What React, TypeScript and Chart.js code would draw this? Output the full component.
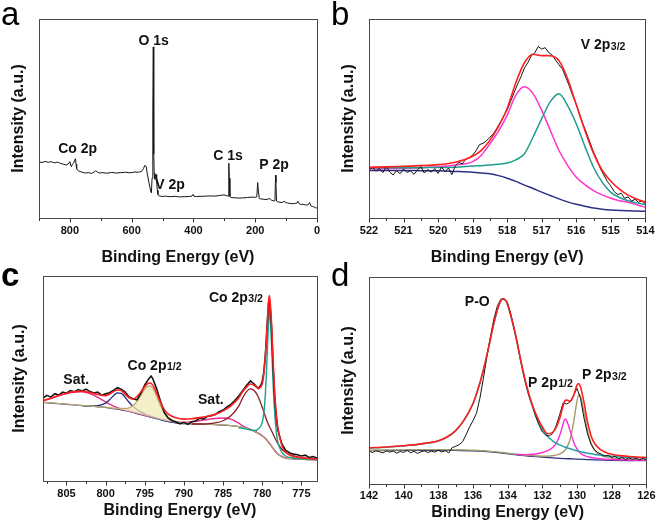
import React, { useEffect, useRef } from 'react';
import { Chart, registerables } from 'chart.js';

Chart.register(...registerables);

type P = [number, number];
const FONT = "'Liberation Sans', Arial, Helvetica, sans-serif";

// ---------------- Panel a : survey ----------------
const A_SURVEY: P[] = [
  [900, 28.2], [890, 27.9], [880, 28.4], [870, 28.0], [860, 28.3], [850, 27.7], [840, 28.1], [830, 27.4],
  [820, 27.0], [812, 26.6], [805, 27.2], [800, 28.3], [797, 26.2], [795, 25.8], [792, 27.0], [788, 27.5],
  [785, 29.0], [782, 29.8], [780, 27.0], [778, 24.8], [775, 24.0], [770, 23.5], [760, 23.0], [750, 22.6],
  [740, 22.8], [730, 22.4], [722, 23.0], [716, 23.8], [712, 23.2], [705, 22.6], [695, 22.8], [680, 22.5],
  [665, 22.9], [650, 22.6], [635, 22.8], [620, 23.0], [605, 22.7], [590, 23.1], [578, 23.0], [568, 23.4],
  [562, 24.8], [557, 26.5], [553, 25.8], [549, 22.0], [545, 18.5], [541, 15.5], [538, 13.2], [536, 12.6],
  [534, 20.0], [532, 42.0], [531, 55.0], [530, 86.0], [529, 58.0], [528, 32.0], [527, 22.5], [525, 19.5],
  [523, 21.0], [521, 21.8], [519, 18.0], [517, 14.0], [515, 11.8], [512, 11.2], [508, 11.0], [500, 10.8],
  [490, 11.0], [475, 10.7], [460, 10.9], [445, 10.6], [430, 10.7], [415, 10.8], [405, 11.0], [401, 11.9],
  [398, 10.9], [390, 10.8], [375, 10.9], [360, 11.0], [345, 11.1], [330, 11.0], [315, 11.3], [305, 11.6],
  [298, 11.5], [292, 11.2], [288, 11.0], [286, 13.0], [285, 27.5], [284, 20.0], [282, 10.8], [278, 10.3],
  [270, 10.2], [255, 10.0], [240, 10.1], [225, 10.3], [210, 10.5], [200, 10.4], [195, 10.6], [192, 17.8],
  [190, 14.0], [187, 9.8], [182, 9.6], [172, 9.4], [162, 9.3], [155, 9.8], [152, 9.6], [148, 9.0],
  [142, 8.6], [138, 8.7], [136, 10.0], [134, 21.5], [133, 18.0], [131, 8.5], [128, 8.2], [120, 7.9],
  [112, 7.8], [106, 8.5], [102, 7.7], [96, 7.6], [88, 7.3], [80, 7.2], [72, 7.3], [65, 7.5],
  [62, 8.4], [58, 7.2], [52, 6.8], [45, 6.9], [38, 6.6], [32, 6.5], [27, 6.9], [24, 7.8],
  [20, 6.2], [15, 5.8], [10, 5.6], [5, 5.2], [0, 5.0],
];
const A_TICKS = [900, 800, 700, 600, 500, 400, 300, 200, 100, 0];
const A_LABELED = [800, 600, 400, 200, 0];

// ---------------- Panel b : V 2p3/2 ----------------
const B_RAW: P[] = [
  [522.0, 24.2], [521.9, 25.4], [521.8, 23.6], [521.7, 24.9], [521.6, 22.8], [521.5, 25.8], [521.4, 23.1],
  [521.3, 21.6], [521.2, 23.9], [521.1, 22.2], [521.0, 24.6], [520.9, 22.9], [520.8, 23.8], [520.7, 21.9],
  [520.6, 24.1], [520.5, 25.9], [520.4, 22.6], [520.3, 24.4], [520.2, 23.0], [520.1, 24.8], [520.0, 22.4],
  [519.9, 25.6], [519.8, 23.3], [519.7, 25.1], [519.6, 21.8], [519.5, 26.2], [519.4, 27.9], [519.3, 27.2],
  [519.2, 29.5], [519.1, 30.2], [519.0, 31.6], [518.9, 33.8], [518.8, 36.9], [518.7, 37.5], [518.6, 38.8],
  [518.5, 40.6], [518.4, 42.3], [518.3, 45.1], [518.2, 48.0], [518.1, 51.2], [518.0, 54.3], [517.9, 58.6],
  [517.8, 62.9], [517.7, 67.2], [517.6, 71.0], [517.5, 75.4], [517.4, 78.1], [517.3, 81.6], [517.2, 83.0],
  [517.1, 86.2], [517.0, 84.9], [516.9, 85.6], [516.8, 83.2], [516.7, 81.9], [516.6, 79.4], [516.5, 77.0],
  [516.4, 74.8], [516.3, 70.6], [516.2, 66.3], [516.1, 61.4], [516.0, 57.2], [515.9, 52.0], [515.8, 47.1],
  [515.7, 42.6], [515.6, 37.9], [515.5, 33.2], [515.4, 29.4], [515.3, 24.8], [515.2, 21.6], [515.1, 18.4],
  [515.0, 16.1], [514.9, 13.2], [514.8, 11.8], [514.7, 12.4], [514.6, 9.9], [514.5, 10.6], [514.4, 8.5],
  [514.3, 9.4], [514.2, 7.9], [514.1, 8.6], [514.0, 7.2],
];
const B_FIT: P[] = [
  [522, 25.5], [521.5, 25.7], [521, 26.0], [520.5, 26.3], [520, 26.8], [519.5, 28.0], [519, 31.0],
  [518.75, 34.0], [518.5, 39.0], [518.25, 46.0], [518, 55.0], [517.75, 68.0], [517.5, 78.0], [517.25, 82.3],
  [517, 81.6], [516.75, 81.5], [516.5, 79.0], [516.25, 70.0], [516, 57.0], [515.75, 44.0], [515.5, 32.5],
  [515.25, 24.0], [515, 18.5], [514.75, 14.5], [514.5, 11.5], [514.25, 9.5], [514, 8.0],
];
const B_PEAK_HI: P[] = [
  [522, 24.7], [521.5, 24.8], [521, 25.0], [520.5, 25.3], [520, 25.7], [519.5, 26.6], [519, 28.3],
  [518.75, 31.5], [518.5, 37.3], [518.25, 43.7], [518, 51.6], [517.75, 61.7], [517.5, 65.9], [517.25, 62.5],
  [517, 54.1], [516.75, 44.0], [516.5, 33.9], [516.25, 26.4], [516, 20.5], [515.75, 16.8], [515.5, 13.8],
  [515.25, 11.6], [515, 9.9], [514.75, 8.7], [514.5, 7.9], [514.25, 6.7], [514, 5.4],
];
const B_PEAK_LO: P[] = [
  [522, 25.2], [521.5, 25.2], [521, 25.2], [520.5, 25.3], [520, 25.4], [519.5, 25.5], [519, 26.1],
  [518.75, 26.3], [518.5, 26.6], [518.25, 27.0], [518, 27.6], [517.75, 29.2], [517.5, 32.3], [517.25, 40.7],
  [517, 49.9], [516.75, 58.5], [516.5, 62.5], [516.25, 56.5], [516, 47.4], [515.75, 36.0], [515.5, 25.5],
  [515.25, 18.0], [515, 12.9], [514.75, 10.3], [514.5, 8.7], [514.25, 7.6], [514, 6.7],
];
const B_BG: P[] = [
  [522, 23.9], [521.5, 23.9], [521, 23.9], [520.5, 23.8], [520, 23.7], [519.5, 23.4], [519, 23.0],
  [518.75, 22.6], [518.5, 22.2], [518.25, 21.3], [518, 20.0], [517.75, 18.4], [517.5, 16.5], [517.25, 14.8],
  [517, 13.0], [516.75, 11.3], [516.5, 9.6], [516.25, 8.1], [516, 6.9], [515.75, 5.9], [515.5, 5.0],
  [515.25, 4.4], [515, 4.0], [514.75, 3.8], [514.5, 3.6], [514.25, 3.5], [514, 3.4],
];
const B_TICKS = [522, 521.5, 521, 520.5, 520, 519.5, 519, 518.5, 518, 517.5, 517, 516.5, 516, 515.5, 515, 514.5, 514];
const B_LABELED = [522, 521, 520, 519, 518, 517, 516, 515, 514];

// ---------------- Panel c : Co 2p ----------------
const C_RAW: P[] = [
  [808.0, 40.5], [807.5, 41.8], [807.0, 40.9], [806.5, 42.6], [806.0, 41.9], [805.5, 43.4], [805.0, 42.8],
  [804.5, 44.1], [804.0, 43.5], [803.5, 44.6], [803.0, 43.9], [802.5, 44.8], [802.0, 43.6], [801.5, 42.9],
  [801.0, 43.4], [800.5, 41.8], [800.0, 42.5], [799.5, 43.1], [799.0, 44.2], [798.5, 45.5], [798.0, 44.8],
  [797.5, 43.4], [797.0, 41.0], [796.5, 40.1], [796.0, 39.6], [795.5, 42.8], [795.0, 46.9], [794.5, 49.8],
  [794.2, 51.2], [794.0, 50.1], [793.5, 45.2], [793.0, 39.0], [792.5, 33.4], [792.0, 30.6], [791.5, 29.4],
  [791.0, 28.8], [790.5, 27.9], [790.0, 28.6], [789.5, 27.6], [789.0, 28.9], [788.5, 29.3], [788.0, 30.6],
  [787.5, 30.2], [787.0, 31.5], [786.5, 31.9], [786.0, 32.4], [785.5, 33.8], [785.0, 34.6], [784.5, 36.1],
  [784.0, 37.4], [783.5, 39.2], [783.0, 41.4], [782.5, 44.0], [782.0, 46.6], [781.5, 48.8], [781.0, 47.2],
  [780.5, 45.1], [780.2, 46.6], [780.0, 48.5], [779.8, 53.0], [779.6, 61.0], [779.4, 74.0], [779.2, 86.5],
  [779.1, 88.5], [779.0, 86.0], [778.8, 74.5], [778.6, 55.0], [778.4, 40.0], [778.2, 31.0], [778.0, 24.8],
  [777.5, 18.2], [777.0, 14.9], [776.5, 13.8], [776.0, 13.1], [775.5, 12.8], [775.0, 12.2], [774.5, 12.6],
  [774.0, 11.5], [773.5, 11.9], [773.0, 11.2],
];
const C_FIT: P[] = [
  [808, 39.2], [807, 40.4], [806, 41.7], [805, 42.8], [804, 43.6], [803, 43.8], [802, 43.2], [801, 42.2],
  [800, 41.6], [799.5, 42.4], [799, 43.6], [798.5, 44.4], [798, 44.1], [797.5, 42.3], [797, 40.6],
  [796.5, 40.0], [796, 41.2], [795.5, 43.5], [795, 46.0], [794.7, 47.3], [794.4, 47.8], [794.1, 47.3],
  [793.8, 45.6], [793.5, 43.0], [793, 38.4], [792.5, 34.8], [792, 32.6], [791, 30.8], [790, 30.2],
  [789, 30.4], [788, 30.9], [787, 31.6], [786, 32.5], [785, 34.2], [784, 36.7], [783, 40.5], [782.5, 43.5],
  [782, 45.8], [781.5, 47.3], [781, 46.6], [780.5, 45.2], [780, 47.3], [779.8, 52.0], [779.6, 60.5],
  [779.4, 73.0], [779.2, 87.0], [779.1, 90.5], [779.0, 88.0], [778.8, 76.5], [778.6, 58.0], [778.4, 43.0],
  [778.2, 33.0], [778, 26.0], [777.5, 17.5], [777, 14.0], [776, 12.0], [775, 11.4], [774, 11.0], [773, 10.7],
];
const C_BG: P[] = [
  [808, 38.3], [807, 38.0], [806, 37.7], [805, 37.4], [804, 37.1], [803, 36.8], [802, 36.5], [801, 36.2],
  [800, 35.9], [799.5, 35.6], [799, 35.3], [798.5, 35.0], [798, 34.7], [797.5, 34.3], [797, 33.9],
  [796.5, 33.4], [796, 32.9], [795.5, 32.4], [795, 31.9], [794.7, 31.6], [794.4, 31.3], [794.1, 31.0],
  [793.8, 30.7], [793.5, 30.4], [793, 29.9], [792.5, 29.4], [792, 29.0], [791, 28.4], [790, 28.0],
  [789, 27.8], [788, 27.7], [787, 27.6], [786, 27.5], [785, 27.3], [784, 27.0], [783, 26.5], [782.5, 26.1],
  [782, 25.6], [781.5, 25.0], [781, 24.2], [780.5, 23.2], [780, 22.0], [779.8, 21.4], [779.6, 20.7],
  [779.4, 19.8], [779.2, 18.9], [779.1, 18.4], [779.0, 17.9], [778.8, 16.9], [778.6, 15.8], [778.4, 14.8],
  [778.2, 13.8], [778, 13.0], [777.5, 11.8], [777, 11.2], [776, 10.8], [775, 10.6], [774, 10.4], [773, 10.3],
];
const C_SAT: P[] = [
  [808, 39.0], [807, 40.3], [806, 41.6], [805, 42.7], [804, 43.4], [803, 43.5], [802, 42.6], [801, 40.8],
  [800, 38.6], [799.5, 37.5], [799, 36.5], [798.5, 35.8], [798, 35.2], [797.5, 34.7], [797, 34.2],
  [796.5, 33.7], [796, 33.2], [795.5, 32.7], [795, 32.2], [794.4, 31.6], [793.8, 31.0], [793, 30.2],
  [792, 29.3], [791, 28.8], [790, 28.6], [789, 28.9], [788, 29.4], [787, 30.0], [786, 30.5], [785, 30.7],
  [784, 30.2], [783, 28.2], [782.5, 26.9], [782, 25.9], [781.5, 25.2], [781, 24.4], [780.5, 23.4],
  [780, 22.2], [779.6, 20.9], [779.2, 19.1], [779.0, 18.1], [778.6, 16.0], [778.2, 14.0], [778, 13.2],
  [777.5, 12.0], [777, 11.4], [776, 11.0], [775, 10.8], [774, 10.6], [773, 10.5],
];
const C_P12_SAT: P[] = [
  [803, 36.8], [802, 36.6], [801, 36.8], [800, 38.0], [799.5, 39.6], [799, 41.6], [798.5, 43.0], [798, 42.8],
  [797.5, 40.8], [797, 38.4], [796.5, 36.4], [796, 34.9], [795.5, 33.7], [795, 32.7], [794.4, 31.8],
  [793.8, 31.0], [793, 30.1], [792, 29.1], [791, 28.4], [790, 28.0],
];
const C_P12: P[] = [
  [808, 38.4], [807, 38.1], [806, 37.8], [805, 37.5], [804, 37.2], [803, 36.9], [802, 36.6], [801, 36.3],
  [800, 36.0], [799.5, 35.8], [799, 35.6], [798.5, 35.5], [798, 35.4], [797.5, 35.4], [797, 35.7],
  [796.5, 36.8], [796, 38.8], [795.5, 41.8], [795, 44.8], [794.7, 46.0], [794.4, 46.4], [794.1, 45.8],
  [793.8, 44.0], [793.5, 41.4], [793, 36.8], [792.5, 33.2], [792, 31.0], [791, 29.0], [790, 28.2],
  [789, 27.9], [788, 27.75], [787, 27.65], [786, 27.55], [785, 27.35], [784, 27.05], [783, 26.55],
  [782.5, 26.15], [782, 25.65], [781.5, 25.05], [781, 24.25], [780.5, 23.25], [780, 22.05], [779.8, 21.45],
  [779.6, 20.75], [779.4, 19.85], [779.2, 18.95], [779.1, 18.45], [779.0, 17.95], [778.8, 16.95],
  [778.6, 15.85], [778.4, 14.85], [778.2, 13.85], [778, 13.05], [777.5, 11.85], [777, 11.25], [776, 10.85],
  [775, 10.65], [774, 10.45], [773, 10.35],
];
const C_P32_SAT: P[] = [
  [789, 27.8], [788, 27.8], [787, 27.9], [786, 28.3], [785, 29.4], [784, 31.8], [783, 36.5], [782.5, 40.5],
  [782, 43.6], [781.5, 44.9], [781, 44.0], [780.5, 41.0], [780, 36.0], [779.6, 31.5], [779.2, 27.5],
  [779.0, 26.0], [778.6, 22.8], [778.2, 19.6], [778, 18.2], [777.5, 15.6], [777, 13.9], [776, 12.2],
  [775, 11.4], [774, 11.0], [773, 10.8],
];
const C_P32: P[] = [
  [783, 26.0], [782, 25.3], [781.5, 24.9], [781, 24.6], [780.5, 25.4], [780, 28.5], [779.8, 33.0],
  [779.6, 42.0], [779.4, 58.0], [779.2, 77.0], [779.1, 84.3], [779.0, 80.5], [778.8, 66.0], [778.6, 47.0],
  [778.4, 33.0], [778.2, 24.0], [778, 19.0], [777.5, 14.0], [777, 12.2], [776, 11.2], [775, 10.8],
  [774, 10.6], [773, 10.5],
];
const C_TICKS = [807.5, 805, 802.5, 800, 797.5, 795, 792.5, 790, 787.5, 785, 782.5, 780, 777.5, 775];
const C_LABELED = [805, 800, 795, 790, 785, 780, 775];

// ---------------- Panel d : P 2p ----------------
const D_RAW: P[] = [
  [142.0, 15.9], [141.8, 15.2], [141.6, 16.1], [141.4, 15.6], [141.2, 15.0], [141.0, 16.0], [140.8, 15.4],
  [140.6, 15.9], [140.4, 14.9], [140.2, 15.7], [140.0, 15.3], [139.8, 16.2], [139.6, 15.1], [139.4, 15.8],
  [139.2, 14.8], [139.0, 15.6], [138.8, 16.0], [138.6, 15.2], [138.4, 15.9], [138.2, 15.4], [138.0, 16.3],
  [137.8, 15.5], [137.6, 16.1], [137.4, 15.0], [137.2, 17.6], [137.0, 18.2], [136.8, 19.0], [136.6, 20.4],
  [136.4, 23.8], [136.2, 27.5], [136.0, 30.6], [135.8, 34.2], [135.6, 41.5], [135.4, 51.0], [135.2, 61.5],
  [135.0, 70.8], [134.8, 79.6], [134.6, 85.8], [134.4, 89.2], [134.2, 89.6], [134.0, 87.4], [133.8, 81.6],
  [133.6, 74.2], [133.4, 65.9], [133.2, 57.8], [133.0, 50.2], [132.8, 43.6], [132.6, 38.9], [132.4, 33.0],
  [132.2, 28.6], [132.0, 25.2], [131.8, 23.6], [131.6, 23.2], [131.4, 24.4], [131.2, 28.2], [131.0, 33.5],
  [130.8, 39.2], [130.6, 38.6], [130.4, 39.6], [130.2, 42.8], [130.0, 46.2], [129.8, 41.5], [129.6, 32.0],
  [129.4, 24.5], [129.2, 19.4], [129.0, 16.6], [128.8, 15.2], [128.6, 14.4], [128.4, 13.5], [128.2, 13.9],
  [128.0, 12.8], [127.8, 13.3], [127.6, 12.1], [127.4, 12.9], [127.2, 11.8], [127.0, 12.6], [126.8, 11.9],
  [126.6, 12.4], [126.4, 11.6], [126.2, 12.3], [126.0, 11.9],
];
const D_FIT: P[] = [
  [142, 17.5], [141, 17.9], [140, 18.5], [139, 19.4], [138, 20.9], [137.5, 22.7], [137, 25.8], [136.5, 31.1],
  [136, 38.9], [135.7, 46.1], [135.4, 55.1], [135.1, 66.0], [134.8, 77.6], [134.5, 86.6], [134.3, 89.4],
  [134.1, 88.6], [133.8, 80.8], [133.5, 70.4], [133.2, 58.0], [132.9, 47.2], [132.6, 38.8], [132.3, 32.4],
  [132, 27.6], [131.7, 24.3], [131.4, 25.0], [131.2, 27.4], [131, 31.6], [130.8, 37.8], [130.7, 40.2],
  [130.6, 40.6], [130.4, 40.0], [130.2, 42.6], [130.0, 47.8], [129.9, 48.5], [129.8, 47.0], [129.6, 39.6],
  [129.4, 30.2], [129.2, 23.6], [129, 19.8], [128.7, 17.0], [128.4, 15.5], [128, 14.4], [127.5, 13.7],
  [127, 13.3], [126.5, 13.0], [126, 12.8],
];
const D_PO: P[] = [
  [142, 17.4], [141, 17.8], [140, 18.4], [139, 19.3], [138, 20.8], [137.5, 22.6], [137, 25.7], [136.5, 31.0],
  [136, 38.8], [135.7, 46.0], [135.4, 55.0], [135.1, 65.9], [134.8, 77.5], [134.5, 86.5], [134.3, 89.3],
  [134.1, 88.5], [133.8, 80.5], [133.5, 70.0], [133.2, 57.5], [132.9, 46.5], [132.6, 38.0], [132.3, 31.5],
  [132, 26.4], [131.7, 23.0], [131.4, 20.8], [131.2, 19.7], [131, 18.9], [130.8, 18.2], [130.7, 17.9],
  [130.6, 17.6], [130.4, 17.0], [130.2, 16.5], [130.0, 16.0], [129.9, 15.8], [129.8, 15.6], [129.6, 15.2],
  [129.4, 14.9], [129.2, 14.6], [129, 14.3], [128.7, 14.0], [128.4, 13.7], [128, 13.4], [127.5, 13.1],
  [127, 12.9], [126.5, 12.7], [126, 12.6],
];
const D_P12: P[] = [
  [133.5, 14.3], [133, 14.2], [132.5, 14.4], [132, 15.2], [131.7, 16.1], [131.4, 17.6], [131.2, 19.6],
  [131, 23.4], [130.8, 29.0], [130.7, 31.4], [130.6, 30.6], [130.4, 25.8], [130.2, 20.4], [130, 16.9],
  [129.8, 14.9], [129.6, 13.8], [129.4, 13.2], [129.2, 12.8], [129, 12.5], [128.5, 12.1], [128, 11.8],
  [127, 11.55], [126, 11.4],
];
const D_P32: P[] = [
  [142, 16.3], [141, 16.4], [140, 16.5], [139, 16.6], [138, 16.6], [137.5, 16.55], [137, 16.5], [136.5, 16.4],
  [136, 16.3], [135.7, 16.2], [135.4, 16.05], [135.1, 15.85], [134.8, 15.65], [134.5, 15.4], [134.3, 15.2],
  [134.1, 15.0], [133.8, 14.7], [133.5, 14.4], [133.2, 14.1], [132.9, 13.9], [132.6, 13.7], [132.3, 13.55],
  [132, 13.45], [131.7, 13.45], [131.4, 13.65], [131.2, 13.95], [131, 14.5], [130.8, 15.5], [130.7, 16.3],
  [130.6, 17.4], [130.4, 21.5], [130.2, 29.5], [130.0, 40.0], [129.9, 43.1], [129.8, 42.3], [129.6, 35.0],
  [129.4, 26.0], [129.2, 20.0], [129, 16.5], [128.7, 14.2], [128.4, 13.2], [128, 12.5], [127.5, 12.1],
  [127, 11.9], [126.5, 11.75], [126, 11.65],
];
const D_BG: P[] = [
  [142, 16.1], [140, 16.2], [138, 16.3], [137, 16.2], [136, 16.05], [135.4, 15.8], [134.8, 15.35],
  [134.3, 14.9], [133.8, 14.4], [133.2, 13.8], [132.6, 13.4], [132, 13.0], [131.4, 12.6], [131, 12.4],
  [130.4, 12.2], [130.0, 12.0], [129.4, 11.82], [129, 11.7], [128.4, 11.55], [128, 11.48], [127, 11.35],
  [126, 11.25],
];
const D_TICKS = [142, 141, 140, 139, 138, 137, 136, 135, 134, 133, 132, 131, 130, 129, 128, 127, 126];
const D_LABELED = [142, 140, 138, 136, 134, 132, 130, 128, 126];

// ---------------- Text labels ----------------
type Note = { main: string; sub?: string; x: number; y: number; align: 'center' | 'left' };
const A_NOTES: Note[] = [
  { main: 'O 1s', x: 529, y: 89.4, align: 'center' },
  { main: 'Co 2p', x: 775, y: 35.2, align: 'center' },
  { main: 'C 1s', x: 288, y: 31.7, align: 'center' },
  { main: 'P 2p', x: 139, y: 27.1, align: 'center' },
  { main: 'V 2p', x: 476, y: 17.1, align: 'center' },
];
const B_NOTES: Note[] = [{ main: 'V 2p', sub: '3/2', x: 515.87, y: 87.4, align: 'left' }];
const C_NOTES: Note[] = [
  { main: 'Co 2p', sub: '3/2', x: 786.8, y: 89.9, align: 'left' },
  { main: 'Co 2p', sub: '1/2', x: 797.2, y: 56.6, align: 'left' },
  { main: 'Sat.', x: 805.4, y: 49.6, align: 'left' },
  { main: 'Sat.', x: 788.2, y: 40.0, align: 'left' },
];
const D_NOTES: Note[] = [
  { main: 'P-O', x: 136.47, y: 88.3, align: 'left' },
  { main: 'P 2p', sub: '1/2', x: 132.82, y: 49.3, align: 'left' },
  { main: 'P 2p', sub: '3/2', x: 129.71, y: 53.0, align: 'left' },
];

// ---------------- Panel layout ----------------
type Series = { data: P[]; color: string; width: number; smooth: boolean; fillTo?: number; fillColor?: string };
type PanelCfg = {
  letter: string;
  letterBold: boolean;
  letterPos: [number, number];
  box: [number, number, number, number];
  area: [number, number, number, number];
  xMin: number;
  xMax: number;
  ticks: number[];
  labeled: number[];
  tickPad: number;
  xTitleY: number;
  yTitleX: number;
  series: Series[];
  notes: Note[];
};

const RED = '#ff1f1f';
const BLACK = '#151515';

const PANELS: PanelCfg[] = [
  {
    letter: 'a', letterBold: false, letterPos: [1, 25],
    box: [0, 0, 330, 270], area: [39, 19, 317, 218],
    xMin: 0, xMax: 900, ticks: A_TICKS, labeled: A_LABELED, tickPad: 6.5, xTitleY: 257.5, yTitleX: 18.5,
    series: [{ data: A_SURVEY, color: BLACK, width: 1, smooth: false }],
    notes: A_NOTES,
  },
  {
    letter: 'b', letterBold: false, letterPos: [1, 25],
    box: [330, 0, 331, 270], area: [369, 19, 647, 218],
    xMin: 514, xMax: 522, ticks: B_TICKS, labeled: B_LABELED, tickPad: 6.5, xTitleY: 257.5, yTitleX: 18.5,
    series: [
      { data: B_FIT, color: RED, width: 1.6, smooth: true },
      { data: B_RAW, color: BLACK, width: 1, smooth: false },
      { data: B_PEAK_LO, color: '#1f9c8c', width: 1.5, smooth: true },
      { data: B_PEAK_HI, color: '#ff33cc', width: 1.5, smooth: true },
      { data: B_BG, color: '#2c2f86', width: 1.5, smooth: true },
    ],
    notes: B_NOTES,
  },
  {
    letter: 'c', letterBold: true, letterPos: [1, 30],
    box: [0, 256, 330, 272], area: [43, 276, 317, 481],
    xMin: 773, xMax: 808, ticks: C_TICKS, labeled: C_LABELED, tickPad: 6.5, xTitleY: 511, yTitleX: 20,
    series: [
      { data: C_FIT, color: RED, width: 1.6, smooth: true },
      { data: C_RAW, color: BLACK, width: 1.6, smooth: false },
      { data: C_P32, color: '#17a394', width: 1.4, smooth: true },
      { data: C_P32_SAT, color: '#8e1c22', width: 1.3, smooth: true },
      { data: C_P12, color: '#b7ad6e', width: 1.2, smooth: true, fillTo: 8, fillColor: 'rgba(240,234,180,0.75)' },
      { data: C_P12_SAT, color: '#1f2a86', width: 1.3, smooth: true },
      { data: C_SAT, color: '#ee2a8c', width: 1.4, smooth: true },
      { data: C_BG, color: '#3b2f8a', width: 1.2, smooth: true },
      { data: C_BG, color: 'rgba(0,0,0,0)', width: 0, smooth: true },
    ],
    notes: C_NOTES,
  },
  {
    letter: 'd', letterBold: false, letterPos: [1, 30],
    box: [330, 256, 331, 272], area: [369, 277, 649, 484],
    xMin: 126, xMax: 142, ticks: D_TICKS, labeled: D_LABELED, tickPad: 5.5, xTitleY: 513, yTitleX: 18.5,
    series: [
      { data: D_FIT, color: RED, width: 1.6, smooth: true },
      { data: D_RAW, color: BLACK, width: 1, smooth: false },
      { data: D_PO, color: '#1fa3a6', width: 1.5, smooth: true },
      { data: D_P12, color: '#ff2bd6', width: 1.4, smooth: true },
      { data: D_P32, color: '#a39c6a', width: 1.4, smooth: true },
      { data: D_BG, color: '#2b3080', width: 1.3, smooth: true },
    ],
    notes: D_NOTES,
  },
];

function makeDecor(cfg: PanelCfg) {
  return {
    id: 'decor' + cfg.letter,
    afterDraw(chart: any) {
      const { ctx, chartArea: a } = chart;
      const xs = chart.scales.x;
      const ys = chart.scales.y;
      ctx.save();
      const l = Math.round(a.left) + 0.5;
      const t = Math.round(a.top) + 0.5;
      const r = Math.round(a.right) + 0.5;
      const b = Math.round(a.bottom) + 0.5;
      ctx.strokeStyle = '#4a4a4a';
      ctx.lineWidth = 1;
      ctx.strokeRect(l, t, r - l, b - t);
      ctx.strokeStyle = '#333';
      for (const v of cfg.ticks) {
        const px = Math.round(xs.getPixelForValue(v)) + 0.5;
        const len = cfg.labeled.includes(v) ? 4 : 2.5;
        ctx.beginPath();
        ctx.moveTo(px, b);
        ctx.lineTo(px, b + len);
        ctx.stroke();
      }
      ctx.fillStyle = '#111';
      for (const n of cfg.notes) {
        const px = xs.getPixelForValue(n.x);
        const py = ys.getPixelForValue(n.y);
        ctx.font = `bold 14px ${FONT}`;
        ctx.textBaseline = 'alphabetic';
        const base = py + 5;
        const w = ctx.measureText(n.main).width;
        let sw = 0;
        if (n.sub) {
          ctx.font = `bold 10.5px ${FONT}`;
          sw = ctx.measureText(n.sub).width;
        }
        const x0 = n.align === 'center' ? px - (w + sw) / 2 : px;
        ctx.font = `bold 14px ${FONT}`;
        ctx.textAlign = 'left';
        ctx.fillText(n.main, x0, base);
        if (n.sub) {
          ctx.font = `bold 10.5px ${FONT}`;
          ctx.fillText(n.sub, x0 + w + 0.5, base + 0.5);
        }
      }
      ctx.font = `${cfg.letterBold ? 'bold ' : ''}33px ${FONT}`;
      ctx.textAlign = 'left';
      ctx.textBaseline = 'alphabetic';
      ctx.fillStyle = '#000';
      ctx.fillText(cfg.letter, cfg.letterPos[0], cfg.letterPos[1]);
      ctx.restore();
    },
  };
}

function makeChart(canvas: HTMLCanvasElement, cfg: PanelCfg) {
  const [cx, cy, cw, ch] = cfg.box;
  const [L, T, R, B] = cfg.area;
  const datasets = cfg.series.map((s) => ({
    data: s.data.map(([x, y]) => ({ x, y })),
    borderColor: s.color,
    borderWidth: s.width,
    pointRadius: 0,
    pointHoverRadius: 0,
    tension: 0,
    cubicInterpolationMode: s.smooth ? 'monotone' : 'default',
    fill: s.fillTo !== undefined ? s.fillTo : false,
    backgroundColor: s.fillColor || 'rgba(0,0,0,0)',
  }));
  const tickFont = { family: FONT, size: 11, weight: 'bold' as const };
  const titleFont = { family: FONT, size: 16, weight: 'bold' as const };
  return new Chart(canvas, {
    type: 'line',
    data: { datasets: datasets as any },
    options: {
      responsive: false,
      maintainAspectRatio: false,
      animation: false,
      devicePixelRatio: 1,
      events: [],
      layout: { padding: { left: 0, top: T - cy, right: cx + cw - R, bottom: 0 } },
      plugins: { legend: { display: false }, tooltip: { enabled: false }, title: { display: false } },
      scales: {
        x: {
          type: 'linear',
          min: cfg.xMin,
          max: cfg.xMax,
          reverse: true,
          position: 'bottom',
          afterFit: (s: any) => {
            s.height = cy + ch - B;
          },
          afterBuildTicks: (s: any) => {
            s.ticks = cfg.ticks.map((v) => ({ value: v }));
          },
          grid: { display: false, drawTicks: false },
          border: { display: false },
          ticks: {
            autoSkip: false,
            maxRotation: 0,
            minRotation: 0,
            padding: cfg.tickPad,
            color: '#111',
            font: tickFont,
            callback: (v: any) => (cfg.labeled.includes(Number(v)) ? String(v) : ''),
          },
          title: {
            display: true,
            text: 'Binding Energy (eV)',
            color: '#111',
            font: titleFont,
            padding: { top: 0, bottom: ch - (cfg.xTitleY - cy) - 9.6 },
          },
        },
        y: {
          type: 'linear',
          min: 0,
          max: 100,
          afterFit: (s: any) => {
            s.width = L - cx;
          },
          grid: { display: false, drawTicks: false },
          border: { display: false },
          ticks: { display: false },
          title: {
            display: true,
            text: 'Intensity (a.u.)',
            color: '#111',
            font: titleFont,
            padding: { top: cfg.yTitleX - 9.6, bottom: 0 },
          },
        },
      },
    } as any,
    plugins: [makeDecor(cfg)],
  });
}

function PanelChart({ cfg }: { cfg: PanelCfg }) {
  const ref = useRef<HTMLCanvasElement>(null);
  useEffect(() => {
    if (!ref.current) return;
    const chart = makeChart(ref.current, cfg);
    return () => chart.destroy();
  }, [cfg]);
  const [cx, cy, cw, ch] = cfg.box;
  return (
    <canvas
      ref={ref}
      width={cw}
      height={ch}
      style={{ position: 'absolute', left: cx, top: cy, width: cw, height: ch }}
    />
  );
}

export default function App() {
  return (
    <div style={{ position: 'absolute', left: 0, top: 0, width: 661, height: 528, background: '#fff', overflow: 'hidden' }}>
      {PANELS.map((p) => (
        <PanelChart key={p.letter} cfg={p} />
      ))}
    </div>
  );
}
